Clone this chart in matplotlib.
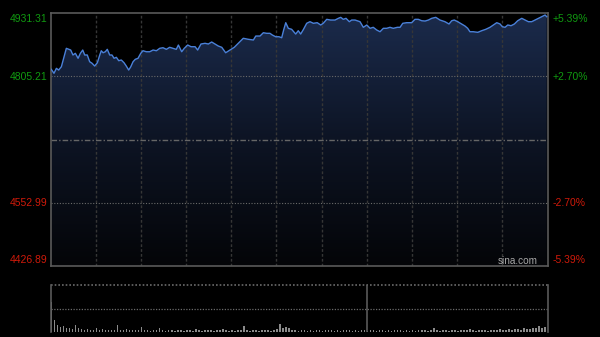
import numpy as np
import matplotlib
matplotlib.use('Agg')
import matplotlib.pyplot as plt
from matplotlib.colors import LinearSegmentedColormap

plt.rcParams['font.family'] = ['Liberation Sans', 'DejaVu Sans']

# intraday price (minutes from open, index level)
times = [0.5, 2.3, 3.9, 5.4, 7.2, 9.0, 10.5, 12.1, 13.4, 14.9,
         16.5, 18.3, 19.8, 21.4, 22.7, 24.4, 26.0, 27.6, 29.3, 31.1,
         32.7, 33.7, 34.9, 36.4, 37.7, 39.3, 40.8, 42.2, 43.7, 45.3,
         47.0, 48.8, 50.3, 51.9, 53.3, 54.8, 56.3, 58.1, 59.9, 61.4,
         63.6, 65.9, 68.1, 70.3, 72.5, 74.7, 76.9, 79.1, 81.3, 83.5,
         84.9, 87.1, 88.8, 91.1, 93.3, 96.0, 97.7, 99.9, 102.6, 104.8,
         107.0, 109.2, 111.4, 113.7, 116.3, 119.2, 122.0, 124.7, 128.0, 131.3,
         134.7, 136.3, 139.1, 141.3, 143.6, 145.7, 147.3, 149.5, 151.7, 153.5,
         154.8, 156.2, 157.9, 160.1, 162.8, 164.5, 166.1, 167.9, 170.1, 172.3,
         174.5, 177.1, 179.4, 181.1, 183.4, 186.0, 188.9, 191.1, 192.7, 194.4,
         196.2, 198.4, 200.0, 202.2, 203.7, 205.5, 207.7, 210.0, 212.2, 214.3,
         216.6, 218.8, 221.0, 223.2, 225.4, 227.6, 230.3, 232.1, 233.9, 236.5,
         239.8, 242.0, 244.2, 246.5, 248.7, 250.9, 253.1, 255.8, 258.6, 261.9,
         264.6, 266.4, 268.1, 270.4, 273.0, 275.2, 277.0, 278.5, 280.7, 283.7,
         286.3, 289.0, 291.8, 294.0, 296.3, 298.5, 300.0, 301.8, 303.6, 305.8,
         308.0, 310.2, 312.9, 315.1, 317.3, 319.5, 321.7, 323.9, 326.2, 328.4,
         329.5]
prices = [4819.0, 4811.1, 4821.0, 4817.6, 4824.2, 4844.2, 4860.9, 4858.9, 4857.5, 4847.6,
          4850.9, 4841.0, 4850.9, 4857.5, 4847.6, 4847.6, 4834.2, 4831.0, 4825.6, 4832.2,
          4847.6, 4856.1, 4852.1, 4854.1, 4858.9, 4847.6, 4847.6, 4841.0, 4843.0, 4836.2,
          4837.6, 4832.2, 4825.6, 4817.6, 4824.2, 4834.2, 4839.0, 4841.0, 4850.9, 4856.1,
          4854.1, 4854.1, 4857.5, 4856.1, 4860.9, 4862.1, 4858.9, 4862.9, 4860.9, 4858.9,
          4867.5, 4854.1, 4860.9, 4867.5, 4864.1, 4864.1, 4857.5, 4869.5, 4870.9, 4869.5,
          4873.5, 4869.5, 4865.5, 4862.9, 4852.1, 4857.5, 4862.9, 4870.9, 4880.9, 4878.9,
          4877.5, 4885.4, 4885.4, 4892.0, 4890.8, 4890.8, 4887.4, 4884.0, 4884.0, 4882.0,
          4897.4, 4912.0, 4900.8, 4898.8, 4889.4, 4896.0, 4889.4, 4898.4, 4910.8, 4914.0,
          4910.8, 4912.0, 4907.4, 4910.8, 4918.7, 4917.3, 4917.3, 4920.7, 4922.7, 4918.7,
          4920.7, 4914.0, 4917.3, 4917.3, 4915.9, 4914.0, 4902.8, 4907.4, 4900.8, 4902.8,
          4897.4, 4894.0, 4900.8, 4900.8, 4902.8, 4900.8, 4902.8, 4902.8, 4910.8, 4912.0,
          4912.0, 4918.7, 4918.7, 4915.9, 4915.3, 4917.3, 4920.7, 4922.7, 4917.3, 4914.0,
          4909.4, 4915.9, 4917.3, 4914.0, 4909.4, 4905.4, 4900.8, 4894.0, 4894.0, 4892.8,
          4896.0, 4898.8, 4902.8, 4907.4, 4912.0, 4909.4, 4904.0, 4902.8, 4907.4, 4906.0,
          4909.4, 4915.9, 4920.7, 4917.3, 4914.0, 4914.0, 4917.3, 4920.7, 4923.9, 4927.3,
          4923.9]

# volume bars (relative units, panel top = 100), one every 2 minutes
volume = [64, 26, 14, 10, 12, 8, 9, 7, 14, 8,
          7, 5, 6, 4, 5, 8, 5, 6, 4, 5,
          4, 4, 14, 4, 5, 6, 4, 5, 4, 5,
          11, 5, 4, 3, 5, 4, 8, 4, 3, 4,
          5, 3, 4, 4, 3, 5, 4, 3, 6, 4,
          3, 4, 5, 4, 3, 4, 4, 6, 4, 3,
          4, 3, 4, 5, 12, 4, 3, 4, 4, 3,
          5, 4, 4, 3, 5, 6, 18, 8, 10, 9,
          5, 4, 3, 4, 5, 3, 4, 3, 5, 4,
          3, 4, 5, 4, 3, 4, 3, 4, 4, 5,
          3, 4, 3, 5, 4, 3, 4, 4, 3, 4,
          5, 3, 4, 3, 4, 5, 4, 3, 4, 3,
          4, 3, 5, 4, 4, 3, 4, 8, 4, 3,
          4, 5, 3, 4, 4, 3, 5, 4, 4, 6,
          4, 3, 4, 5, 4, 3, 4, 5, 4, 6,
          5, 4, 6, 5, 7, 6, 5, 8, 6, 7,
          8, 9, 12, 8, 10, 7]

prev_close = 4679.10
price_labels = ['4931.31', '4805.21', '4552.99', '4426.89']
pct_labels = ['+5.39%', '+2.70%', '-2.70%', '-5.39%']
label_colors = ['#109a10', '#109a10', '#d01a0a', '#d01a0a']

ymin, ymax = 4426.89, 4931.31
xmax = 330

fig = plt.figure(figsize=(6, 3.37), dpi=100, facecolor='black')
ax = fig.add_axes([0.0842, 0.2107, 0.8283, 0.7507])
ax.set_facecolor('black')

# gradient area under the price line
cmap = LinearSegmentedColormap.from_list('area', ['#040508', '#0d1424', '#1b2b4c'])
grad = np.linspace(0, 1, 256).reshape(-1, 1)
img = ax.imshow(grad, extent=[0, xmax, ymin, ymax], origin='lower', aspect='auto',
                cmap=cmap, zorder=1)
poly = ax.fill_between(times, prices, ymin, color='none', lw=0)
img.set_clip_path(poly.get_paths()[0], transform=ax.transData)

ax.plot(times, prices, color='#4a80d8', lw=1.0, zorder=4)

# grid
for xv in range(30, xmax, 30):
    ax.axvline(xv, color='#363636', lw=1, ls=(0, (2, 1.5)), zorder=2)
for lv in [4805.21, 4552.99]:
    ax.axhline(lv, color='#6a6a6a', lw=0.8, ls=(0, (1, 1.5)), zorder=2)
ax.axhline(prev_close, color='#666666', lw=1, ls=(0, (4, 1.5, 1, 1.5)), zorder=2)

ax.set_xlim(0, xmax)
ax.set_ylim(ymin, ymax)
ax.set_xticks([])
ax.set_yticks([])
for s in ax.spines.values():
    s.set_color('#5a5a5a')
    s.set_linewidth(1.2)

label_y = [19, 76.5, 203, 260]
for lab, pl, col, yp in zip(price_labels, pct_labels, label_colors, label_y):
    fig.text(47 / 600, 1 - yp / 337, lab, color=col, fontsize=7.5, ha='right', va='center')
    fig.text(553 / 600, 1 - yp / 337, pl, color=col, fontsize=7.5, ha='left', va='center')

fig.text(518 / 600, 1 - 261 / 337, 'sina.com', color='#a8a8a8', fontsize=7.2, ha='center', va='center')

# volume panel
axv = fig.add_axes([0.0842, 0.0148, 0.8283, 0.1395])
axv.set_facecolor('black')
vol_t = np.arange(len(volume)) * 2 + 0.5
axv.bar(vol_t, volume, width=1.0, color='#8a8a8a', align='center')
axv.set_xlim(0, xmax)
axv.set_ylim(0, 100)
axv.axhline(100, color='#6a6a6a', lw=1.2, ls=(0, (1, 1.2)), clip_on=False)
axv.axhline(50, color='#6a6a6a', lw=0.9, ls=(0, (1, 1.2)))
axv.axvline(210, color='#5a5a5a', lw=1.2)
axv.set_xticks([])
axv.set_yticks([])
for side in ['top', 'bottom']:
    axv.spines[side].set_visible(False)
for side in ['left', 'right']:
    axv.spines[side].set_color('#5a5a5a')
    axv.spines[side].set_linewidth(1.2)

plt.savefig('out.png', dpi=100, facecolor='black')
